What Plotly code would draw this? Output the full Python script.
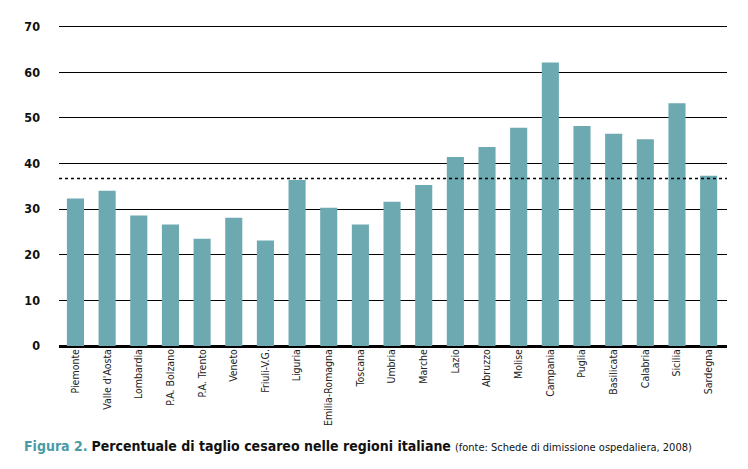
import plotly.graph_objects as go

# DATA
regioni = [
    "Piemonte", "Valle d'Aosta", "Lombardia", "P.A. Bolzano", "P.A. Trento",
    "Veneto", "Friuli-V.G.", "Liguria", "Emilia-Romagna", "Toscana",
    "Umbria", "Marche", "Lazio", "Abruzzo", "Molise", "Campania",
    "Puglia", "Basilicata", "Calabria", "Sicilia", "Sardegna",
]
percentuale_cesarei = [
    32.3, 34.0, 28.6, 26.6, 23.5,
    28.1, 23.1, 36.4, 30.3, 26.6,
    31.6, 35.3, 41.4, 43.6, 47.8, 62.1,
    48.2, 46.5, 45.3, 53.2, 37.3,
]
media_italia = 36.7
y_ticks = [0, 10, 20, 30, 40, 50, 60, 70]

# VISUAL SETTINGS
BAR_COLOR = "#6da9b0"
FIG_COLOR = "#4a9ba6"
FONT_NARROW = "Liberation Sans Narrow, DejaVu Sans Condensed, Arial Narrow, sans-serif"

# the page body has an 8px margin, so the figure is a bit smaller than the window
FIG_W, FIG_H = 740, 461
M_L, M_R, M_T, M_B = 51, 21, 14, 123
PLOT_W = FIG_W - M_L - M_R

fig = go.Figure(
    go.Bar(
        x=regioni,
        y=percentuale_cesarei,
        marker=dict(color=BAR_COLOR, line=dict(width=0)),
        width=0.54,
        hoverinfo="x+y",
    )
)

# average line (dotted)
fig.add_shape(
    type="line",
    xref="paper", yref="y",
    x0=0, x1=1, y0=media_italia, y1=media_italia,
    line=dict(color="black", width=1.6, dash="dot"),
    layer="above",
)

caption = (
    f"<span style='color:{FIG_COLOR}'><b>Figura 2.</b></span> "
    "<b>Percentuale di taglio cesareo nelle regioni italiane</b> "
    "<span style='font-size:11px'>(fonte: Schede di dimissione ospedaliera, 2008)</span>"
)

fig.update_layout(
    width=FIG_W,
    height=FIG_H,
    margin=dict(l=M_L, r=M_R, t=M_T, b=M_B),
    paper_bgcolor="white",
    plot_bgcolor="white",
    showlegend=False,
    font=dict(family=FONT_NARROW, color="#111111"),
    xaxis=dict(
        type="category",
        range=[-0.52, 20.58],
        tickangle=-90,
        tickfont=dict(size=10.5, family=FONT_NARROW, color="#222222"),
        showgrid=False,
        showline=False,
        ticks="",
        zeroline=False,
        automargin=False,
    ),
    yaxis=dict(
        range=[0, 71],
        tickvals=y_ticks,
        tickfont=dict(size=12.5, family=FONT_NARROW, color="#111111", weight="bold"),
        showgrid=True,
        gridcolor="black",
        gridwidth=1,
        zeroline=True,
        zerolinecolor="black",
        zerolinewidth=3,
        showline=False,
        ticks="",
        ticklabelstandoff=18,
        automargin=False,
    ),
    annotations=[
        dict(
            text=caption,
            xref="paper", yref="paper",
            x=(14 - M_L) / PLOT_W, y=-(100) / (FIG_H - M_T - M_B),
            xanchor="left", yanchor="middle",
            showarrow=False,
            font=dict(size=14, family=FONT_NARROW, color="#111111"),
        )
    ],
)

fig.write_html("out.html")
